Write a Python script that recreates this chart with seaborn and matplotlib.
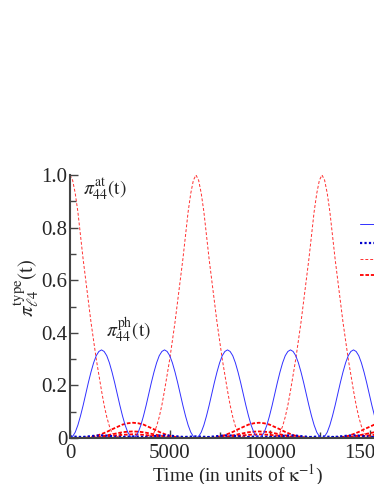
import numpy as np
import matplotlib
matplotlib.use("Agg")
import matplotlib.pyplot as plt
import seaborn as sns
from matplotlib.ticker import MultipleLocator, FuncFormatter

# sample times (units of 1/kappa): fine grid for the two big curves, coarse one for the small ones
time_fine = np.linspace(0, 16800, 129)
time = np.linspace(0, 16800, 65)

# pi^ph_44(t)
ph_44 = [0, 0.006, 0.022, 0.049, 0.084, 0.124, 0.168, 0.211, 0.251, 0.286, 0.313, 0.329,
         0.335, 0.329, 0.313, 0.286, 0.251, 0.211, 0.168, 0.124, 0.084, 0.049, 0.022, 0.006,
         0, 0.006, 0.022, 0.049, 0.084, 0.124, 0.168, 0.211, 0.251, 0.286, 0.313, 0.329,
         0.335, 0.329, 0.313, 0.286, 0.251, 0.211, 0.168, 0.124, 0.084, 0.049, 0.022, 0.006,
         0, 0.006, 0.022, 0.049, 0.084, 0.124, 0.168, 0.211, 0.251, 0.286, 0.313, 0.329,
         0.335, 0.329, 0.313, 0.286, 0.251, 0.211, 0.168, 0.124, 0.084, 0.049, 0.022, 0.006,
         0, 0.006, 0.022, 0.049, 0.084, 0.124, 0.168, 0.211, 0.251, 0.286, 0.313, 0.329,
         0.335, 0.329, 0.313, 0.286, 0.251, 0.211, 0.168, 0.124, 0.084, 0.049, 0.022, 0.006,
         0, 0.006, 0.022, 0.049, 0.084, 0.124, 0.168, 0.211, 0.251, 0.286, 0.313, 0.329,
         0.335, 0.329, 0.313, 0.286, 0.251, 0.211, 0.168, 0.124, 0.084, 0.049, 0.022, 0.006,
         0, 0.006, 0.022, 0.049, 0.084, 0.124, 0.168, 0.211, 0.251]

# pi^at_44(t)
at_44 = [1.0, 0.98, 0.93, 0.86, 0.77, 0.68, 0.60, 0.52, 0.44, 0.37, 0.30, 0.24,
         0.18, 0.125, 0.08, 0.045, 0.02, 0.01, 0.005, 0.002, 0, 0, 0, 0,
         0, 0, 0, 0, 0, 0.002, 0.005, 0.01, 0.02, 0.045, 0.08, 0.125,
         0.18, 0.24, 0.30, 0.37, 0.44, 0.52, 0.60, 0.68, 0.77, 0.86, 0.93, 0.98,
         1.0, 0.98, 0.93, 0.86, 0.77, 0.68, 0.60, 0.52, 0.44, 0.37, 0.30, 0.24,
         0.18, 0.125, 0.08, 0.045, 0.02, 0.01, 0.005, 0.002, 0, 0, 0, 0,
         0, 0, 0, 0, 0, 0.002, 0.005, 0.01, 0.02, 0.045, 0.08, 0.125,
         0.18, 0.24, 0.30, 0.37, 0.44, 0.52, 0.60, 0.68, 0.77, 0.86, 0.93, 0.98,
         1.0, 0.98, 0.93, 0.86, 0.77, 0.68, 0.60, 0.52, 0.44, 0.37, 0.30, 0.24,
         0.18, 0.125, 0.08, 0.045, 0.02, 0.01, 0.005, 0.002, 0, 0, 0, 0,
         0, 0, 0, 0, 0, 0.002, 0.005, 0.01, 0.02]

# pi^ph_l4(t), l != 4
ph_14 = [0, 0.001, 0.003, 0.005, 0.007, 0.009, 0.010, 0.009, 0.007, 0.005, 0.003, 0.001,
         0, 0.001, 0.003, 0.005, 0.007, 0.009, 0.010, 0.009, 0.007, 0.005, 0.003, 0.001,
         0, 0.001, 0.003, 0.005, 0.007, 0.009, 0.010, 0.009, 0.007, 0.005, 0.003, 0.001,
         0, 0.001, 0.003, 0.005, 0.007, 0.009, 0.010, 0.009, 0.007, 0.005, 0.003, 0.001,
         0, 0.001, 0.003, 0.005, 0.007, 0.009, 0.010, 0.009, 0.007, 0.005, 0.003, 0.001,
         0, 0.001, 0.003, 0.005, 0.007]
ph_24 = [0.006, 0.005, 0.004, 0.002, 0.001, 0, 0, 0, 0.001, 0.002, 0.004, 0.005,
         0.006, 0.005, 0.004, 0.002, 0.001, 0, 0, 0, 0.001, 0.002, 0.004, 0.005,
         0.006, 0.005, 0.004, 0.002, 0.001, 0, 0, 0, 0.001, 0.002, 0.004, 0.005,
         0.006, 0.005, 0.004, 0.002, 0.001, 0, 0, 0, 0.001, 0.002, 0.004, 0.005,
         0.006, 0.005, 0.004, 0.002, 0.001, 0, 0, 0, 0.001, 0.002, 0.004, 0.005,
         0.006, 0.005, 0.004, 0.002, 0.001]

# pi^at_l4(t), l != 4
at_14 = [0, 0, 0, 0.001, 0.004, 0.008, 0.015, 0.023, 0.033, 0.042, 0.051, 0.056,
         0.058, 0.056, 0.051, 0.042, 0.033, 0.023, 0.015, 0.008, 0.004, 0.001, 0, 0,
         0, 0, 0, 0.001, 0.004, 0.008, 0.015, 0.023, 0.033, 0.042, 0.051, 0.056,
         0.058, 0.056, 0.051, 0.042, 0.033, 0.023, 0.015, 0.008, 0.004, 0.001, 0, 0,
         0, 0, 0, 0.001, 0.004, 0.008, 0.015, 0.023, 0.033, 0.042, 0.051, 0.056,
         0.058, 0.056, 0.051, 0.042, 0.033]
at_24 = [0, 0, 0, 0, 0.002, 0.003, 0.006, 0.010, 0.014, 0.018, 0.022, 0.024,
         0.025, 0.024, 0.022, 0.018, 0.014, 0.010, 0.006, 0.003, 0.002, 0, 0, 0,
         0, 0, 0, 0, 0.002, 0.003, 0.006, 0.010, 0.014, 0.018, 0.022, 0.024,
         0.025, 0.024, 0.022, 0.018, 0.014, 0.010, 0.006, 0.003, 0.002, 0, 0, 0,
         0, 0, 0, 0, 0.002, 0.003, 0.006, 0.010, 0.014, 0.018, 0.022, 0.024,
         0.025, 0.024, 0.022, 0.018, 0.014]
at_34 = [0, 0, 0, 0, 0.001, 0.002, 0.003, 0.006, 0.008, 0.010, 0.012, 0.013,
         0.014, 0.013, 0.012, 0.010, 0.008, 0.006, 0.003, 0.002, 0.001, 0, 0, 0,
         0, 0, 0, 0, 0.001, 0.002, 0.003, 0.006, 0.008, 0.010, 0.012, 0.013,
         0.014, 0.013, 0.012, 0.010, 0.008, 0.006, 0.003, 0.002, 0.001, 0, 0, 0,
         0, 0, 0, 0, 0.001, 0.002, 0.003, 0.006, 0.008, 0.010, 0.012, 0.013,
         0.014, 0.013, 0.012, 0.010, 0.008]

y_ticks = [0, 0.2, 0.4, 0.6, 0.8, 1.0]
x_ticks = [0, 5000, 10000, 15000]

sns.set_theme(style="ticks")
plt.rcParams["font.family"] = ["Liberation Serif", "DejaVu Serif"]
plt.rcParams["mathtext.fontset"] = "stix"

fig = plt.figure(figsize=(3.74, 4.84), dpi=100)
ax = fig.add_axes([70 / 374, 46 / 484, 336 / 374, 263 / 484])

red_dd = (0, (2, 1))
sns.lineplot(x=time, y=at_34, ax=ax, color="red", lw=1.3, linestyle=red_dd)
sns.lineplot(x=time, y=at_24, ax=ax, color="red", lw=1.3, linestyle=red_dd)
sns.lineplot(x=time, y=at_14, ax=ax, color="red", lw=1.3, linestyle=red_dd,
             label=r"$\pi^{\rm at}_{\ell 4}$")
sns.lineplot(x=time, y=ph_24, ax=ax, color="#0000cc", lw=1.6, linestyle=(0, (1, 1)))
sns.lineplot(x=time, y=ph_14, ax=ax, color="#0000cc", lw=1.6, linestyle=(0, (1, 1)),
             label=r"$\pi^{\rm ph}_{\ell 4}$")
sns.lineplot(x=time_fine, y=at_44, ax=ax, color="#ff3030", lw=0.7, linestyle=(0, (3, 2)),
             label=r"$\pi^{\rm at}_{44}$")
sns.lineplot(x=time_fine, y=ph_44, ax=ax, color="#3030ff", lw=0.7,
             label=r"$\pi^{\rm ph}_{44}$")

ax.set_xlim(0, 16800)
ax.set_ylim(0, 1.0)
ax.set_xticks(x_ticks)
ax.set_yticks(y_ticks)
ax.yaxis.set_major_formatter(FuncFormatter(lambda v, p: "0" if v == 0 else f"{v:.1f}"))
ax.yaxis.set_minor_locator(MultipleLocator(0.1))
ax.xaxis.set_minor_locator(MultipleLocator(2500))
ax.tick_params(which="both", direction="in", labelsize=15, color="#444444")
ax.tick_params(axis="y", which="major", length=6, width=1, pad=2)
ax.tick_params(axis="y", which="minor", length=4, width=1)
ax.tick_params(axis="x", which="major", length=6, width=1, pad=4)
ax.tick_params(axis="x", which="minor", length=4, width=1)
for side in ["top", "right"]:
    ax.spines[side].set_visible(False)
for side in ["left", "bottom"]:
    ax.spines[side].set_color("#444444")
    ax.spines[side].set_linewidth(1.5)

ax.set_xlabel(r"Time (in units of $\mathrm{\kappa}^{\mathrm{-1}}$)", fontsize=14, labelpad=0)
ax.set_ylabel(r"$\pi^{\mathrm{type}}_{\ell 4}\mathrm{(t)}$", fontsize=15, labelpad=0, y=0.57)

ax.text(650, 0.925, r"$\pi^{\mathrm{at}}_{44}\mathrm{(t)}$", fontsize=14)
ax.text(1800, 0.385, r"$\pi^{\mathrm{ph}}_{44}\mathrm{(t)}$", fontsize=14)

handles, labels = ax.get_legend_handles_labels()
order = [3, 1, 2, 0]
ax.legend([handles[i] for i in order], [labels[i] for i in order],
          loc="upper left", bbox_to_anchor=(360 / 374, (484 - 215) / 484),
          bbox_transform=fig.transFigure, frameon=False, borderpad=0,
          borderaxespad=0, handlelength=2.2, fontsize=8, labelspacing=0.0)

fig.savefig("out.png", dpi=100)
